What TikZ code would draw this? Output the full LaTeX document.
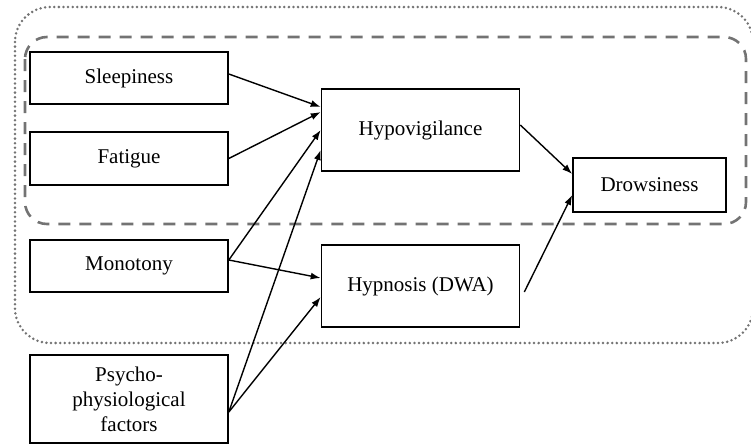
\documentclass[tikz,border=0pt]{standalone}
\usepackage{fontspec}
\setmainfont{Liberation Serif}
\usetikzlibrary{arrows.meta}
\newcommand{\factor}[5][52]{
    \node[factor, minimum height=#1] (#4) at (#2, #3) {#5};
}
\newcommand{\link}[2]{
    \draw[link] #1 -- #2;
}

\begin{document}
\begin{tikzpicture}[x=1pt, y=-1pt,
    factor/.style={draw, line width=1.6pt, minimum width=198pt, align=center,
        inner sep=0pt, font=\fontsize{21}{25}\selectfont},
    link/.style={-{Latex[length=10pt, width=7pt]}, line width=1.4pt},
    group/.style={black!55, rounded corners=#1}]
	\useasboundingbox (0,0) rectangle (751,445);

	% groups
	\draw[group=35pt, line width=2.8pt, line cap=round, dash pattern=on 0pt off 4.6pt] (15,7) rectangle (753,343);
	\draw[group=22pt, line width=2.6pt, dash pattern=on 12pt off 9pt] (25,37) rectangle (746,224);

	% causes
	\factor{129}{78}{sleep}{Sleepiness};
	\factor[53]{129}{158.5}{fatigue}{Fatigue};
	\factor{129}{266}{monotony}{Monotony};
	\factor[88]{129}{399}{psycho}{Psycho-\\physiological\\factors};

	% states
	\factor[82]{420.5}{130}{hypo}{Hypovigilance};
	\factor[82]{420.5}{286}{hypnosis}{Hypnosis (DWA)};
	\node[factor, minimum width=153pt, minimum height=54pt] (drowsy) at (649.5, 185) {Drowsiness};

	\link{([yshift=4pt]sleep.east)}{([yshift=23pt]hypo.west)};
	\link{(fatigue.east)}{([yshift=18pt]hypo.west)};
	\link{([yshift=6pt]monotony.east)}{(hypo.west)};
	\link{([yshift=6pt]monotony.east)}{([yshift=8pt]hypnosis.west)};
	\link{([yshift=-13pt]psycho.east)}{([yshift=-20pt]hypo.west)};
	\link{([yshift=-13pt]psycho.east)}{([yshift=-11pt]hypnosis.west)};
	\link{([yshift=5pt]hypo.east)}{([yshift=11pt]drowsy.west)};
	\link{([xshift=4pt, yshift=-6pt]hypnosis.east)}{([yshift=-10pt]drowsy.west)};
\end{tikzpicture}
\end{document}
